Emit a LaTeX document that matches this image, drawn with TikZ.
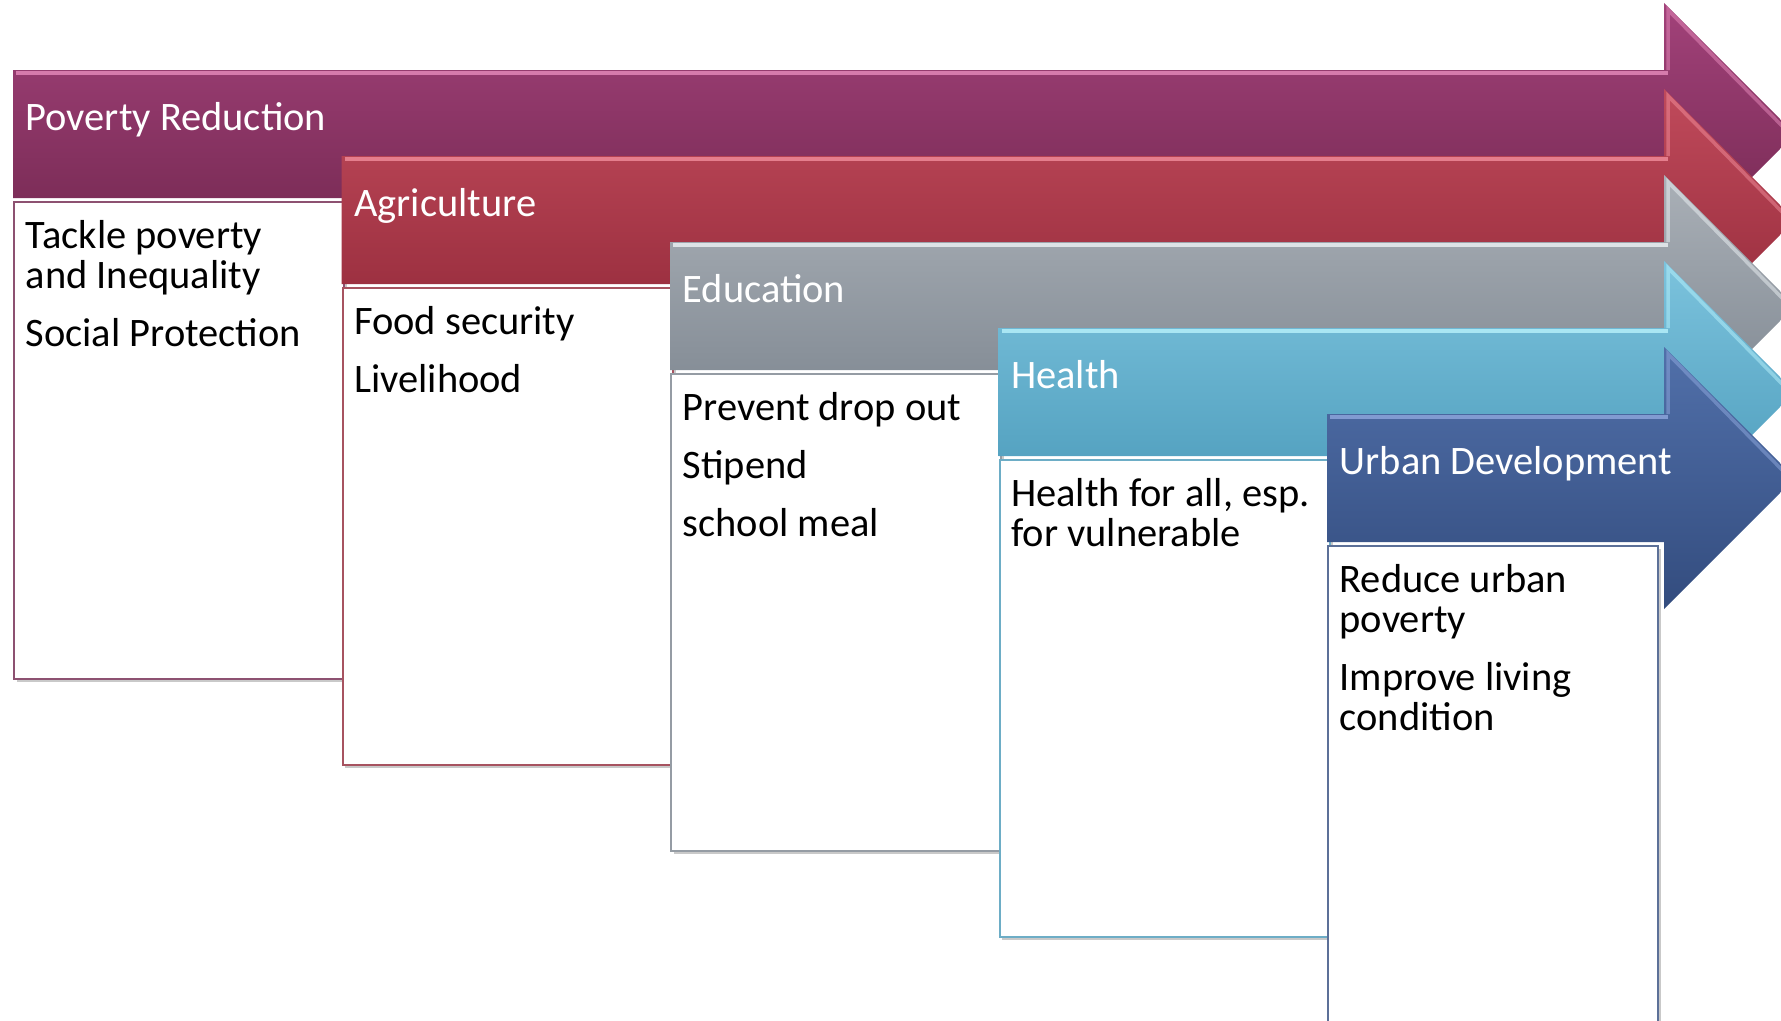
\documentclass[tikz,border=0pt]{standalone}
\usepackage{fontspec}
\setmainfont{Carlito}
\usetikzlibrary{shadows}

\definecolor{povtop}{HTML}{A2427A}
\definecolor{povbot}{HTML}{70264D}
\definecolor{povline}{HTML}{E78BBC}
\definecolor{agrtop}{HTML}{C04A5B}
\definecolor{agrbot}{HTML}{912838}
\definecolor{agrline}{HTML}{F28E9C}
\definecolor{edutop}{HTML}{AAB0B7}
\definecolor{edubot}{HTML}{7A838D}
\definecolor{eduline}{HTML}{EDF2F5}
\definecolor{heatop}{HTML}{7CC3DD}
\definecolor{heabot}{HTML}{4898B8}
\definecolor{healine}{HTML}{B8F2FC}
\definecolor{urbtop}{HTML}{5170AA}
\definecolor{urbbot}{HTML}{334C7E}
\definecolor{urbline}{HTML}{90A9DE}

\tikzset{
	every band/.style={
		draw=none
	},
	band title/.style={
		anchor=base west,
		text=white,
		inner sep=0pt,
		font=\fontsize{11.5}{13}\selectfont
	},
	every box/.style={
		fill=white,
		line width=0.6pt,
		anchor=north west,
		minimum width=3.3cm,
		minimum height=4.77cm,
		drop shadow={shadow xshift=0.8pt, shadow yshift=-0.8pt, opacity=0.35, fill=black!60}
	},
	box text/.style={
		anchor=base west,
		align=flush left,
		text width=3.1cm,
		inner sep=0pt,
		font=\fontsize{11.5}{11.4}\selectfont
	},
}

\begin{document}
\begin{tikzpicture}[x=0.01cm, y=-0.01cm]

\useasboundingbox (0,0) rectangle (1781,1021);
\fill [white] (0,0) rectangle (1781,1021);
\clip (0,0) rectangle (1781,1021);

\foreach \c/\t/\b [count=\i from 0] in {
	pov/Poverty Reduction/{Tackle poverty\\and Inequality\\[5.1pt]Social Protection},
	agr/Agriculture/{Food security\\[5.1pt]Livelihood},
	edu/Education/{Prevent drop out\\[5.1pt]Stipend\\[5.1pt]school meal},
	hea/Health/{Health for all, esp.\\for vulnerable},
	urb/Urban Development/{Reduce urban\\poverty\\[5.1pt]Improve living\\condition}}
{
	\pgfmathsetmacro\L{13+328.5*\i}
	\pgfmathsetmacro\T{70+86*\i}
	\pgfmathsetmacro\C{\T+64}

	% arrow band
	\shade [every band, top color=\c top, bottom color=\c bot]
		(\L,\T) -- (1664,\T) -- (1664,\C-131) -- (1795,\C)
		-- (1664,\C+131) -- (1664,\T+128) -- (\L,\T+128) -- cycle;
	\draw [\c line, line width=1.2pt, opacity=0.8]
		(\L+3,\T+3) -- (1668,\T+3);
	\draw [\c line, line width=1pt, opacity=0.5]
		(1668,\T) -- (1668,\C-124) -- (1790,\C);

	% text box
	\node [every box, draw=\c bot!80] (box-\i) at (\L,\T+131) {};
	\node [band title] (title-\i) at (\L+12,\T+60) {\t};
	\node [box text] (items-\i) at (\L+12,\T+178) {\b};
}

\end{tikzpicture}
\end{document}
